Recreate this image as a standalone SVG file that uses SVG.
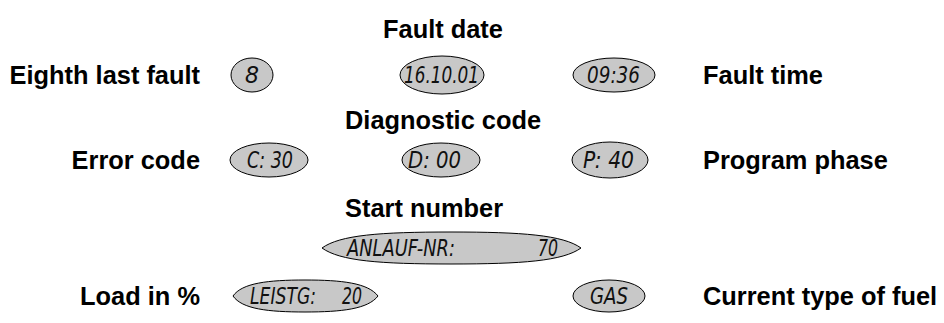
<svg xmlns="http://www.w3.org/2000/svg" width="944" height="323" viewBox="0 0 944 323">
<style>
.lbl{font-family:"Liberation Sans",Arial,sans-serif;font-weight:bold;font-size:25.4px;fill:#000}
.disp{fill:#c8c8c8;stroke:#000;stroke-width:1}
.lcd{font-family:"DejaVu Sans Condensed","DejaVu Sans",sans-serif;font-style:italic;font-size:23px;fill:#111}
</style>
<rect width="944" height="323" fill="#fff"/>
<g id="connectors"/>
<g id="t-fault-date"><text class="lbl" x="383" y="38">Fault date</text></g>
<g id="t-eighth"><text class="lbl" x="200" y="84" text-anchor="end">Eighth last fault</text></g>
<g id="d-8"><ellipse class="disp" cx="252" cy="75" rx="21" ry="17"/><text class="lcd" x="245" y="83" textLength="14" lengthAdjust="spacingAndGlyphs">8</text></g>
<g id="d-date"><ellipse class="disp" cx="442" cy="75" rx="42" ry="19"/><text class="lcd" x="404" y="83" textLength="75" lengthAdjust="spacingAndGlyphs">16.10.01</text></g>
<g id="d-time"><ellipse class="disp" cx="614" cy="75" rx="41" ry="17"/><text class="lcd" x="587" y="83" textLength="53" lengthAdjust="spacingAndGlyphs">09:36</text></g>
<g id="t-fault-time"><text class="lbl" x="703" y="84">Fault time</text></g>
<g id="t-diag"><text class="lbl" x="345" y="129">Diagnostic code</text></g>
<g id="t-error"><text class="lbl" x="200" y="169" text-anchor="end">Error code</text></g>
<g id="d-c"><ellipse class="disp" cx="269" cy="160" rx="39" ry="17"/><text class="lcd" x="247" y="168" textLength="46" lengthAdjust="spacingAndGlyphs">C: 30</text></g>
<g id="d-d"><ellipse class="disp" cx="441" cy="160" rx="39" ry="17"/><text class="lcd" x="408" y="168" textLength="53" lengthAdjust="spacingAndGlyphs">D: 00</text></g>
<g id="d-p"><ellipse class="disp" cx="610" cy="160" rx="38" ry="18"/><text class="lcd" x="583" y="168" textLength="51" lengthAdjust="spacingAndGlyphs">P: 40</text></g>
<g id="t-phase"><text class="lbl" x="703" y="169">Program phase</text></g>
<g id="t-start"><text class="lbl" x="345" y="217">Start number</text></g>
<g id="d-anlauf"><path class="disp" d="M322,248 C340,235 380,232 451,232 C522,232 563,235 581,248 C563,261 522,264 451,264 C380,264 340,261 322,248 Z"/><text class="lcd" x="347" y="256" textLength="108" lengthAdjust="spacingAndGlyphs">ANLAUF-NR:</text><text class="lcd" x="538" y="256" textLength="20" lengthAdjust="spacingAndGlyphs">70</text></g>
<g id="t-load"><text class="lbl" x="200" y="305" text-anchor="end">Load in %</text></g>
<g id="d-leistg"><path class="disp" d="M233,296 C242,283 268,280 305,280 C342,280 368,283 378,296 C368,309 342,312 305,312 C268,312 242,309 233,296 Z"/><text class="lcd" x="250" y="304" textLength="66" lengthAdjust="spacingAndGlyphs">LEISTG:</text><text class="lcd" x="342" y="304" textLength="20" lengthAdjust="spacingAndGlyphs">20</text></g>
<g id="d-gas"><ellipse class="disp" cx="609" cy="296" rx="36" ry="16"/><text class="lcd" x="590" y="304" textLength="38" lengthAdjust="spacingAndGlyphs">GAS</text></g>
<g id="t-fuel"><text class="lbl" x="703" y="305">Current type of fuel</text></g>
</svg>
